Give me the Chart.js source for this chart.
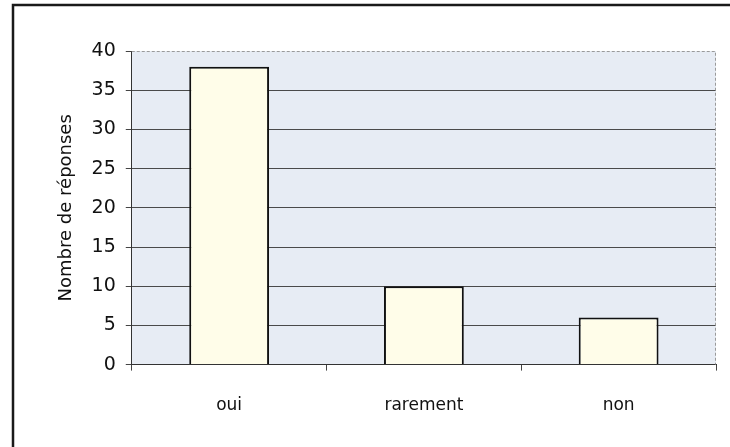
<!DOCTYPE html>
<html>
<head>
<meta charset="utf-8">
<script src="https://cdn.jsdelivr.net/npm/chart.js@4"></script>
<style>
  html, body { margin: 0; padding: 0; background: #fff; }
  #wrap { width: 730px; height: 447px; position: relative; }
</style>
</head>
<body>
<div id="wrap"><canvas id="myChart"></canvas></div>
<script>
const categories = ['oui', 'rarement', 'non']
const reponses = [38, 10, 6]
const yTicks = [0, 5, 10, 15, 20, 25, 30, 35, 40]

const ctx = document.getElementById('myChart')

// plot background + outer frame, like the old spreadsheet chart
const backdrop = {
  id: 'backdrop',
  beforeDraw(chart) {
    const c = chart.ctx
    const a = chart.chartArea
    c.save()
    c.fillStyle = '#e7ecf4'
    c.fillRect(a.left, a.top, a.right - a.left, a.bottom - a.top)
    c.strokeStyle = '#1a1a1a'
    c.lineWidth = 2.5
    c.beginPath()
    c.moveTo(13, 447)
    c.lineTo(13, 5)
    c.lineTo(730, 5)
    c.stroke()
    c.restore()
  },
  afterDatasetsDraw(chart) {
    const c = chart.ctx
    const a = chart.chartArea
    c.save()
    c.strokeStyle = '#9a9a9a'
    c.lineWidth = 1
    c.setLineDash([3, 2])
    c.beginPath()
    c.moveTo(a.left, a.top + 0.5)
    c.lineTo(a.right - 0.5, a.top + 0.5)
    c.lineTo(a.right - 0.5, a.bottom)
    c.stroke()
    c.restore()
  }
}

new Chart(ctx, {
  type: 'bar',
  data: {
    labels: categories,
    datasets: [{
      data: reponses,
      backgroundColor: '#fffde9',
      borderColor: '#111',
      borderWidth: 2,
      categoryPercentage: 1,
      barPercentage: 0.41
    }]
  },
  options: {
    responsive: true,
    maintainAspectRatio: false,
    animation: false,
    layout: {
      padding: { left: 52, top: 51, right: 14, bottom: 6 }
    },
    plugins: {
      legend: false,
      tooltip: { enabled: false }
    },
    scales: {
      x: {
        offset: true,
        grid: {
          offset: true,
          drawOnChartArea: false,
          drawTicks: true,
          tickLength: 6,
          tickColor: '#444'
        },
        border: { color: '#333', width: 1 },
        ticks: {
          color: '#111',
          padding: 25,
          font: { family: 'DejaVu Sans', size: 17 }
        }
      },
      y: {
        min: 0,
        max: 40,
        afterBuildTicks: axis => {
          axis.ticks = yTicks.map(v => ({ value: v }))
        },
        grid: {
          color: ctx => ctx.tick && ctx.tick.value === 40 ? 'rgba(0,0,0,0)' : '#4a4a4a',
          lineWidth: 1,
          drawTicks: true,
          tickLength: 6,
          tickColor: '#444'
        },
        border: { color: '#333', width: 1 },
        title: {
          display: true,
          text: 'Nombre de réponses',
          color: '#111',
          padding: { bottom: 4 },
          font: { family: 'DejaVu Sans', size: 18 }
        },
        ticks: {
          color: '#111',
          padding: 10,
          font: { family: 'DejaVu Sans', size: 19 }
        }
      }
    }
  },
  plugins: [backdrop]
})
</script>
</body>
</html>
